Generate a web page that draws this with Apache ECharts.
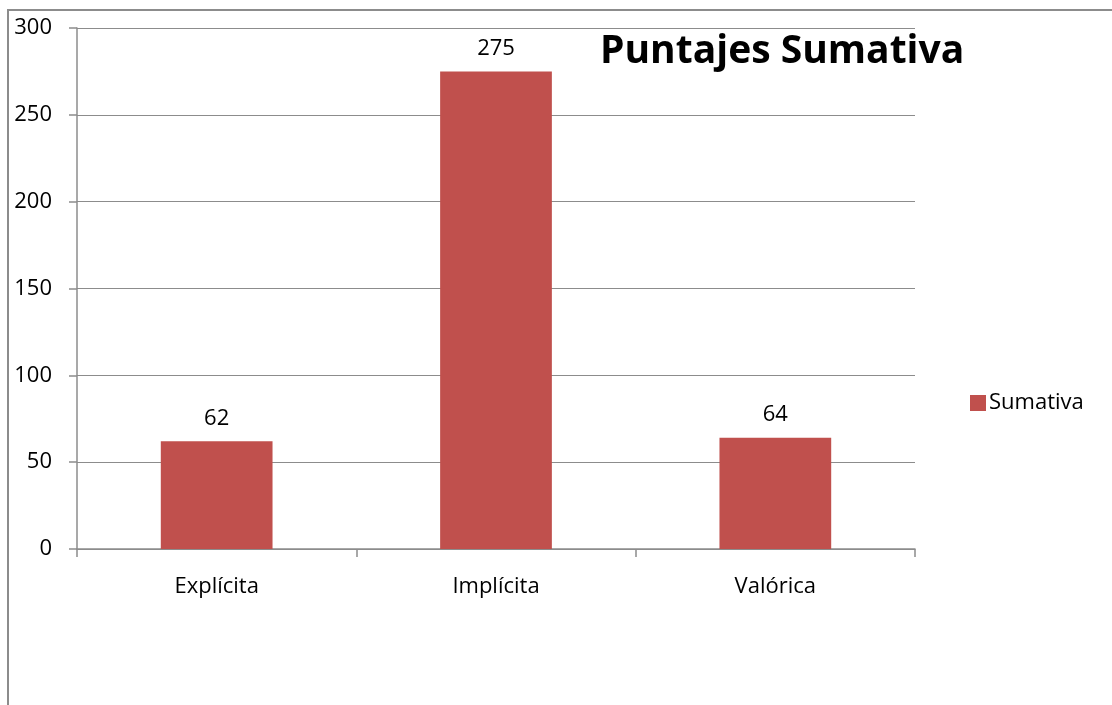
<!DOCTYPE html>
<html lang="es">
<head>
    <meta charset="UTF-8">
    <title>Puntajes Sumativa</title>
    <script src="https://cdn.jsdelivr.net/npm/echarts@6/dist/echarts.min.js"></script>
    <style>
        html, body { margin: 0; padding: 0; background: #fff; }
        #fig1 { width: 1112px; height: 705px; }
    </style>
</head>
<body>
    <div id="fig1"></div>
    <script>
        // datos del gráfico
        let categorias = ['Explícita', 'Implícita', 'Valórica'];
        let serieNombre = 'Sumativa';
        let valores = [62, 275, 64];
        let tituloTexto = 'Puntajes Sumativa';

        let fuente = '"Open Sans", "Noto Sans", sans-serif';
        let gris = '#8c8c8c';

        let fig1 = echarts.init(document.getElementById('fig1'), null, {renderer: 'canvas'});
        let option = {
            animation: false,
            title: {
                text: tituloTexto,
                left: 595,
                top: 27,
                textStyle: {
                    fontFamily: fuente,
                    fontWeight: 'bold',
                    fontSize: 39,
                    color: '#000'
                }
            },
            legend: {
                data: [serieNombre],
                left: 970,
                top: 392,
                padding: 0,
                itemWidth: 16,
                itemHeight: 16,
                itemGap: 4,
                icon: 'rect',
                textStyle: {
                    fontFamily: fuente,
                    fontSize: 22,
                    color: '#000',
                    padding: [0, 0, 0, -2]
                }
            },
            grid: {
                left: 77,
                right: 197,
                top: 28,
                bottom: 156,
                containLabel: false
            },
            xAxis: {
                type: 'category',
                data: categorias,
                axisLine: { lineStyle: { color: gris, width: 1.5 } },
                axisTick: { show: true, length: 8, lineStyle: { color: gris, width: 1.5 } },
                axisLabel: {
                    fontFamily: fuente,
                    fontSize: 22,
                    color: '#000',
                    margin: 27
                }
            },
            yAxis: {
                type: 'value',
                min: 0,
                max: 300,
                interval: 50,
                axisLine: { show: true, lineStyle: { color: gris, width: 1.5 } },
                axisTick: { show: true, length: 8, lineStyle: { color: gris, width: 1.5 } },
                splitLine: { show: true, lineStyle: { color: gris, width: 1 } },
                axisLabel: {
                    fontFamily: fuente,
                    fontSize: 22,
                    color: '#000',
                    margin: 25
                }
            },
            series: [{
                name: serieNombre,
                type: 'bar',
                data: valores,
                barWidth: '40%',
                itemStyle: { color: '#C0504D' },
                label: {
                    show: true,
                    position: 'top',
                    distance: 12,
                    fontFamily: fuente,
                    fontSize: 22,
                    color: '#000'
                }
            }],
            graphic: [
                {
                    type: 'polyline',
                    shape: { points: [[8, 705], [8, 10], [1112, 10]] },
                    style: { stroke: gris, lineWidth: 2, fill: null }
                }
            ]
        };
        fig1.setOption(option);
    </script>
</body>
</html>
